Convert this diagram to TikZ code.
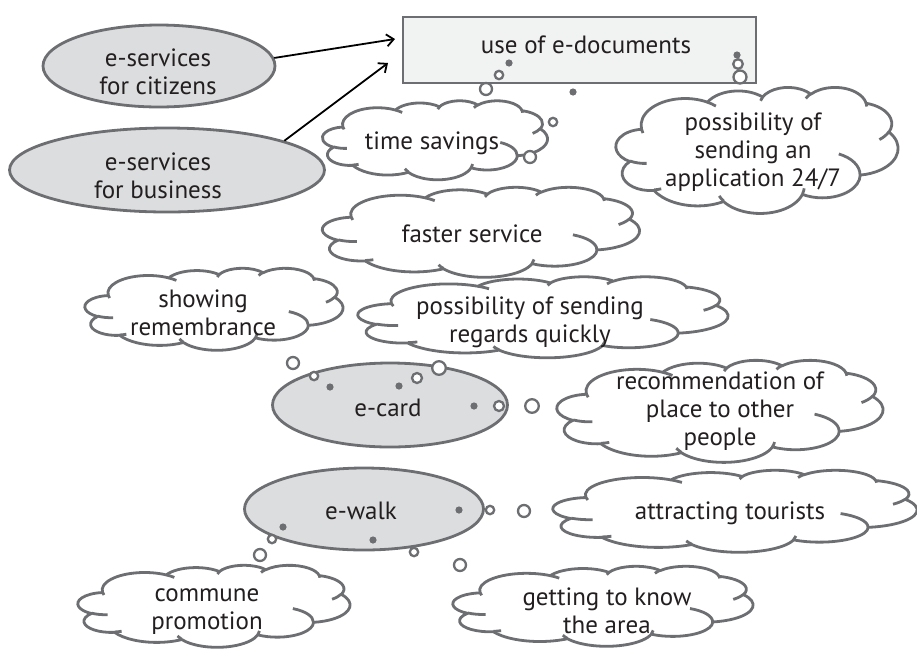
\documentclass[tikz,border=0pt]{standalone}
\usepackage{fontspec}
\setmainfont{PT Sans}
\usetikzlibrary{shapes.geometric,arrows.meta}
\definecolor{gr}{RGB}{109,110,113}
\definecolor{ellf}{RGB}{220,221,222}
\definecolor{rectf}{RGB}{241,242,242}
\definecolor{txt}{RGB}{35,31,32}
\newcommand\ooconv[4]{%
  \pgfmathsetmacro\ooTa{atan2(#1*sin(#3),#2*cos(#3))}%
  \pgfmathsetmacro\ooTb{atan2(#1*sin(#3+#4),#2*cos(#3+#4))}%
  \pgfmathsetmacro\ooD{\ooTb-\ooTa}%
  \pgfmathsetmacro\ooD{ifthenelse(#4>0,ifthenelse(\ooD<0,\ooD+360,\ooD),ifthenelse(\ooD>0,\ooD-360,\ooD))}%
  \global\let\ooT\ooTa\global\let\ooDD\ooD}
\newcommand\ooarc[4]{\pgfextra{\ooconv{#1}{#2}{#3}{#4}} arc[start angle=\ooT, delta angle=\ooDD, x radius=#1, y radius=#2]}
\newcommand\wcloud[4]{%
\begin{scope}[shift={(#1,#2)},x=#3pt,y=-#4pt,shift={(-50,-50)}]
\filldraw[cloudline,fill=white] (9.028,33.264)
 \ooarc{15.632}{21.273}{-190.487}{123.781}
 \ooarc{12.345}{16.822}{-144.102}{89.945}
 \ooarc{10.104}{13.762}{-145.808}{99.723}
 \ooarc{11.243}{15.266}{-130.986}{117.242}
 \ooarc{12.345}{16.836}{-78.709}{109.027}
 \ooarc{15.683}{21.343}{-46.267}{130.269}
 \ooarc{13.391}{18.211}{0.625}{114.033}
 \ooarc{15.630}{21.331}{22.452}{115.173}
 \ooarc{17.870}{24.405}{66.243}{75.711}
 \ooarc{10.093}{13.699}{-274.942}{146.736}
 \ooarc{10.058}{13.762}{-246.829}{152.519}
 -- cycle;
\draw[cloudline] (10.863,60.595) \ooarc{10.058}{13.762}{86.742}{26.430}
 (16.037,80.785) \ooarc{10.093}{13.699}{73.610}{11.447}
 (38.144,90.486) \ooarc{15.630}{21.331}{137.624}{14.081}
 (66.729,80.442) \ooarc{15.630}{21.331}{6.453}{15.998}
 (79.002,53.134) \ooarc{13.391}{18.211}{-70.292}{70.917}
 (96.755,35.542) \ooarc{12.345}{16.836}{30.318}{27.752}
 (88.713,12.560) \ooarc{11.243}{15.266}{-13.744}{14.859}
 (67.310,9.148) \ooarc{11.243}{15.266}{-149.181}{18.195}
 (51.252,10.926) \ooarc{10.104}{13.762}{-163.494}{17.686}
 (32.407,12.019) \ooarc{15.632}{21.273}{-66.707}{12.319}
 (9.553,36.549) \ooarc{15.632}{21.273}{157.654}{11.858};
\end{scope}}
\begin{document}
\begin{tikzpicture}[x=1pt,y=-1pt,
  every node/.style={text=txt,font=\fontsize{25}{28}\selectfont,align=center},
  cloudline/.style={draw=gr,line width=2.8pt,line join=round},
  ell/.style={ellipse,draw=gr,fill=ellf,line width=2.8pt,inner sep=0pt},
  rbox/.style={rectangle,draw=gr,fill=rectf,line width=2.8pt,inner sep=0pt},
  ring/.style={draw=gr,fill=white,line width=2.3pt},
  dot/.style={fill=gr},
  arr/.style={draw=black,line width=1.8pt,-{Straight Barb[length=7pt,width=12pt]}}]
\useasboundingbox (0,0) rectangle (917,649);
% clouds
\wcloud{435}{140}{2.25}{0.79}
\wcloud{757}{150}{2.82}{1.26}
\wcloud{481}{232}{3.17}{0.90}
\wcloud{214}{309}{2.58}{0.82}
\wcloud{543}{317}{3.70}{0.81}
\wcloud{720}{411}{3.26}{1.02}
\wcloud{735}{511}{3.64}{0.82}
\wcloud{214}{606}{2.72}{0.82}
\wcloud{603}{606}{3.00}{0.80}
\node (ts) at (432,143) {time savings};
\node (app) at (753,152) {possibility of\\sending an\\application 24/7};
\node (fs) at (472,234) {faster service};
\node (sr) at (203,313) {showing\\remembrance};
\node (rq) at (530,322) {possibility of sending\\regards quickly};
\node (rec) at (720,411) {recommendation of\\place to other\\people};
\node (at) at (730,513) {attracting tourists};
\node (cp) at (207,612) {commune\\promotion};
\node (gk) at (607,611) {getting to know\\the area};
% main shapes
\node[rbox,minimum width=353pt,minimum height=66pt] (doc) at (579.5,50) {};
\node (doct) at (586,45) {use of e-documents};
\node[ell,minimum width=232pt,minimum height=82pt] (cit) at (159,66) {};
\node (citt) at (158,72) {e-services\\for citizens};
\node[ell,minimum width=315pt,minimum height=84pt] (bus) at (167,170) {};
\node (bust) at (158,176) {e-services\\for business};
\node[ell,minimum width=235pt,minimum height=84pt] (ecard) at (390,405) {};
\node (ecardt) at (388,408) {e-card};
\node[ell,minimum width=239pt,minimum height=82pt] (ewalk) at (364,509) {};
\node (ewalkt) at (361,511) {e-walk};
% bubbles
\foreach \x/\y/\r in {486/89/6,499/75/4.2,738/64/4.8,740/77/6.5,553/122/4.2,530/157/6,293/363/6,314/376/4.2,417/378/5,439/368/6.8,499/406/5,532/406/6.8,490/510/4.2,524/511/6,272/539/4.2,260/555/6,414/552/4.2,460/565/6}
  \draw[ring] (\x,\y) circle[radius=\r];
\foreach \x/\y in {509/63,573/92,737/55,330/387,399/386,474/406,459/510,283/527,373/540}
  \fill[dot] (\x,\y) circle[radius=3.6];
% arrows
\coordinate (t1) at (395,39);
\coordinate (t2) at (388,63);
\draw[arr] (cit.4) -- (t1);
\draw[arr] (bus.14) -- (t2);
\end{tikzpicture}
\end{document}
